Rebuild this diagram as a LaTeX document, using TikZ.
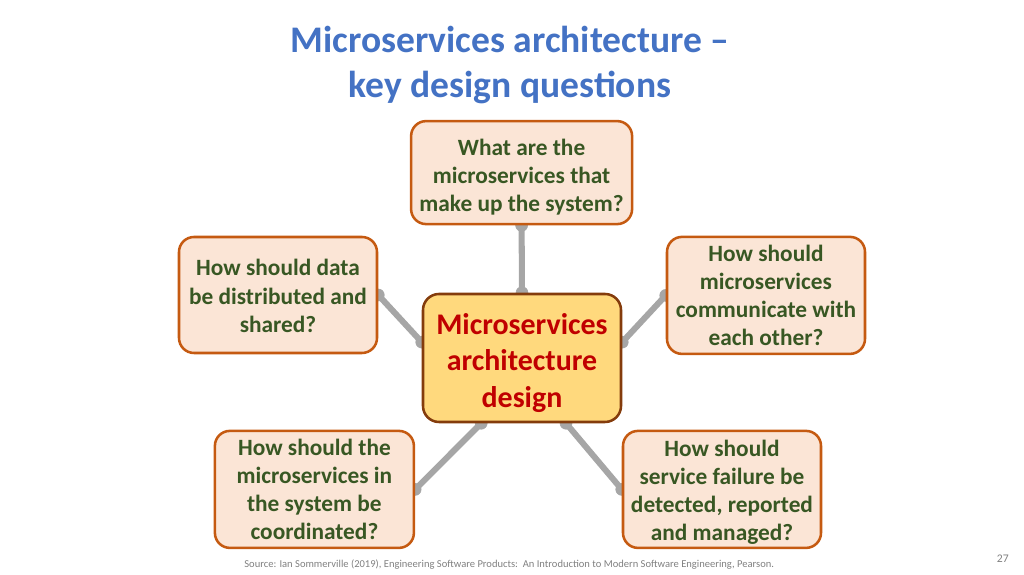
\documentclass[tikz,border=0pt]{standalone}
\usepackage{fontspec}
\setmainfont{Carlito}
\usetikzlibrary{positioning, calc, backgrounds}
\definecolor{titleblue}{RGB}{68,114,196}
\definecolor{qfill}{RGB}{251,229,214}
\definecolor{qborder}{RGB}{197,90,17}
\definecolor{qtext}{RGB}{56,87,35}
\definecolor{corefill}{RGB}{255,217,125}
\definecolor{coreborder}{RGB}{132,60,12}
\definecolor{coretext}{RGB}{192,0,0}
\definecolor{linkgray}{RGB}{166,166,166}
\definecolor{notegray}{RGB}{128,128,128}
\tikzset{question/.style={draw=qborder, fill=qfill, line width=1.8pt, rounded corners=0.375cm, text=qtext, font=\fontsize{16.6}{20}\selectfont\bfseries, align=center, minimum width=4.95cm, minimum height=2.9cm, inner sep=0pt, text depth=0pt},
	core/.style={draw=coreborder, fill=corefill, line width=1.8pt, rounded corners=0.4cm, text=coretext, font=\fontsize{21.3}{26}\selectfont\bfseries, align=center, minimum width=4.95cm, minimum height=3.2cm, inner sep=0pt, text depth=0pt, text height=70pt},
	link/.style={linkgray, line width=4.3pt},
	blob/.style={linkgray, fill=linkgray}}

\begin{document}
\begin{tikzpicture}
	\useasboundingbox (0,0) rectangle (25.6,14.375);
	
	\node [titleblue, align=center, font=\fontsize{26.7}{32.6}\selectfont\bfseries] (title) at (12.75,12.75) {Microservices architecture –\\key design questions};
	
	\node [core] (core) at (13.05,5.425) {Microservices\\architecture\\design};
	
	\node [question, minimum width=5.525cm, minimum height=2.575cm, text height=55.7pt] (what) at (13.04,10.06) {What are the\\microservices that\\make up the system?};
	\node [question, text height=52.9pt] (data) at (6.95,7.0) {How should data\\be distributed and\\shared?};
	\node [question, minimum height=2.925cm] (talk) at (19.15,6.99) {How should\\microservices\\communicate with\\each other?};
	\node [question, minimum width=4.975cm, minimum height=2.925cm] (coord) at (7.86,2.14) {How should the\\microservices in\\the system be\\coordinated?};
	\node [question, minimum height=2.925cm, text height=72.9pt] (fail) at (18.05,2.14) {How should\\service failure be\\detected, reported\\and managed?};
	
	% connectors behind the boxes
	\begin{scope}[on background layer]
		\draw [link] (what.south) -- (core.north);
		\draw [link] (data.east) -- (core.171);
		\draw [link] (talk.west) -- (core.9);
		\draw [link] (core.238) -- (coord.east);
		\draw [link] (core.304) -- (fail.west);
		\foreach \p in {what.south, core.north, data.east, core.171, talk.west, core.9, core.238, coord.east, core.304, fail.west}
			\draw [blob] (\p) circle [radius=0.15];
	\end{scope}
	
	\node [notegray, font=\fontsize{7.5}{9}\selectfont] (source) at (12.73,0.25) {Source: Ian Sommerville (2019), Engineering Software Products:\ \ An Introduction to Modern Software Engineering, Pearson.};
	\node [notegray, font=\fontsize{8.3}{10}\selectfont] (page) at (25.07,0.4) {27};

\end{tikzpicture}
\end{document}
